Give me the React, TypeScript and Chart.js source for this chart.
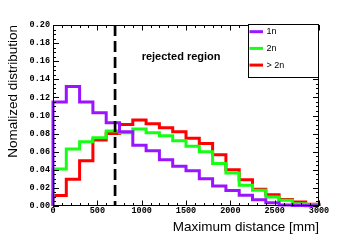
import React, { useEffect, useRef } from "react";
import { Chart, registerables } from "chart.js";

Chart.register(...registerables);

// Bin edges (mm)
const binEdges = [0, 150, 300, 450, 600, 750, 900, 1050, 1200, 1350, 1500, 1650, 1800, 1950, 2100, 2250, 2400, 2550, 2700, 2850, 3000];

// Normalized distributions per bin
const values1n = [0.115, 0.132, 0.115, 0.103, 0.092, 0.082, 0.067, 0.061, 0.051, 0.044, 0.039, 0.030, 0.022, 0.017, 0.012, 0.007, 0.0035, 0.0012, 0.0005, 0.0003];
const values2n = [0.041, 0.063, 0.071, 0.0755, 0.083, 0.081, 0.085, 0.081, 0.0775, 0.072, 0.066, 0.060, 0.047, 0.0365, 0.023, 0.0175, 0.010, 0.0063, 0.0026, 0.0015];
const valuesGt2n = [0.0115, 0.0295, 0.050, 0.073, 0.080, 0.090, 0.095, 0.091, 0.0865, 0.082, 0.075, 0.069, 0.0565, 0.040, 0.029, 0.0185, 0.0125, 0.0072, 0.0044, 0.0019];

const seriesLabels = ["1n", "2n", "> 2n"];
const seriesColors = ["#9a14ff", "#14ff14", "#ff0000"];

const xTickStep = 500;
const xMinorStep = 100;
const yTickStep = 0.02;
const yMinorStep = 0.005;
const xMax = 3000;
const yMax = 0.2;

const rejectionCut = 700;
const rejectedLabel = "rejected region";
const rejectedLabelPos = { x: 1000, y: 0.165 };

const xTitle = "Maximum distance [mm]";
const yTitle = "Nomalized distribution";

function histPoints(vals: number[]) {
  const pts: { x: number; y: number }[] = [{ x: binEdges[0], y: 0 }];
  for (let i = 0; i < vals.length; i++) pts.push({ x: binEdges[i], y: vals[i] });
  pts.push({ x: binEdges[binEdges.length - 1], y: vals[vals.length - 1] });
  pts.push({ x: binEdges[binEdges.length - 1], y: 0 });
  return pts;
}

const decorPlugin = {
  id: "rootDecor",
  afterDraw(chart: any) {
    const { ctx, chartArea, scales } = chart;
    const xs = scales.x;
    const ys = scales.y;
    const { left, right, top, bottom } = chartArea;
    ctx.save();
    // frame
    ctx.strokeStyle = "#000";
    ctx.lineWidth = 1;
    ctx.setLineDash([]);
    ctx.strokeRect(left + 0.5, top + 0.5, right - left - 1, bottom - top - 1);
    // x ticks
    ctx.beginPath();
    for (let v = 0; v <= xMax + 0.001; v += xMinorStep) {
      const px = Math.round(xs.getPixelForValue(v)) + 0.5;
      const len = v % xTickStep === 0 ? 5.5 : 3;
      ctx.moveTo(px, bottom);
      ctx.lineTo(px, bottom - len);
      ctx.moveTo(px, top);
      ctx.lineTo(px, top + len);
    }
    // y ticks
    for (let i = 0; i <= Math.round(yMax / yMinorStep); i++) {
      const v = i * yMinorStep;
      const py = Math.round(ys.getPixelForValue(v)) + 0.5;
      const major = i % Math.round(yTickStep / yMinorStep) === 0;
      const len = major ? 6 : 3;
      ctx.moveTo(left, py);
      ctx.lineTo(left + len, py);
      ctx.moveTo(right, py);
      ctx.lineTo(right - len, py);
    }
    ctx.stroke();

    // dashed cut line
    const cx = xs.getPixelForValue(rejectionCut);
    ctx.beginPath();
    ctx.lineWidth = 2.7;
    ctx.setLineDash([11, 5]);
    ctx.moveTo(cx, top);
    ctx.lineTo(cx, bottom);
    ctx.stroke();
    ctx.setLineDash([]);

    // label
    ctx.fillStyle = "#000";
    ctx.font = "bold 11px 'Liberation Sans', Arial, sans-serif";
    ctx.textAlign = "left";
    ctx.textBaseline = "middle";
    ctx.fillText(rejectedLabel, xs.getPixelForValue(rejectedLabelPos.x), ys.getPixelForValue(rejectedLabelPos.y));

    // legend
    const lw = 71;
    const lh = 54;
    const lx = right - lw;
    const ly = top - 1;
    ctx.fillStyle = "#fff";
    ctx.fillRect(lx, ly, lw, lh);
    ctx.strokeStyle = "#000";
    ctx.lineWidth = 1;
    ctx.strokeRect(lx + 0.5, ly + 0.5, lw - 1, lh - 1);
    ctx.font = "9px 'Liberation Sans', Arial, sans-serif";
    chart.data.datasets.forEach((ds: any, i: number) => {
      const yy = ly + 7.7 + i * 16.7;
      ctx.strokeStyle = ds.borderColor;
      ctx.lineWidth = 3;
      ctx.beginPath();
      ctx.moveTo(lx + 1.5, yy);
      ctx.lineTo(lx + 15, yy);
      ctx.stroke();
      ctx.fillStyle = "#000";
      ctx.textAlign = "left";
      ctx.textBaseline = "middle";
      ctx.fillText(ds.label, lx + 18.5, yy);
    });
    ctx.restore();
  },
};

export default function App() {
  const ref = useRef<HTMLCanvasElement | null>(null);
  useEffect(() => {
    if (!ref.current) return;
    const tickFont = { family: "'Liberation Mono', 'DejaVu Sans Mono', monospace", size: 8.5, weight: "bold" as const };
    const titleFont = { family: "'Liberation Sans', Arial, sans-serif", size: 13.5 };
    const allValues = [values1n, values2n, valuesGt2n];
    const chart = new Chart(ref.current, {
      type: "line",
      data: {
        datasets: allValues.map((vals, i) => ({
          label: seriesLabels[i],
          data: histPoints(vals),
          borderColor: seriesColors[i],
          backgroundColor: seriesColors[i],
          borderWidth: 3,
          pointRadius: 0,
          stepped: "before" as const,
          fill: false,
          clip: false as any,
        })),
      },
      options: {
        responsive: false,
        animation: false,
        devicePixelRatio: 1,
        layout: { padding: { left: 0, right: 36, top: 25, bottom: 0 } },
        plugins: { legend: { display: false }, tooltip: { enabled: false } },
        scales: {
          x: {
            type: "linear",
            min: 0,
            max: xMax,
            grid: { display: false, drawTicks: false },
            border: { display: false },
            ticks: {
              stepSize: xTickStep,
              autoSkip: false,
              maxRotation: 0,
              padding: 0,
              color: "#000",
              font: tickFont,
              callback: (v: any) => String(Math.round(Number(v))),
            },
            title: {
              display: true,
              text: xTitle,
              align: "end",
              color: "#000",
              font: titleFont,
              padding: { top: 0, bottom: 7 },
            },
            afterFit: (s: any) => {
              s.height = 36;
            },
          },
          y: {
            type: "linear",
            min: 0,
            max: yMax,
            grid: { display: false, drawTicks: false },
            border: { display: false },
            ticks: {
              stepSize: yTickStep,
              padding: 3,
              color: "#000",
              font: tickFont,
              callback: (v: any) => Number(v).toFixed(2),
            },
            title: {
              display: true,
              text: yTitle,
              align: "end",
              color: "#000",
              font: titleFont,
              padding: { top: 5.4, bottom: 0 },
            },
            afterFit: (s: any) => {
              s.width = 53;
            },
          },
        },
      },
      plugins: [decorPlugin],
    });
    return () => chart.destroy();
  }, []);
  return (
    <div style={{ position: "fixed", left: 0, top: 0, width: 355, height: 242, background: "#fff" }}>
      <canvas ref={ref} width={355} height={242} style={{ display: "block" }} />
    </div>
  );
}
